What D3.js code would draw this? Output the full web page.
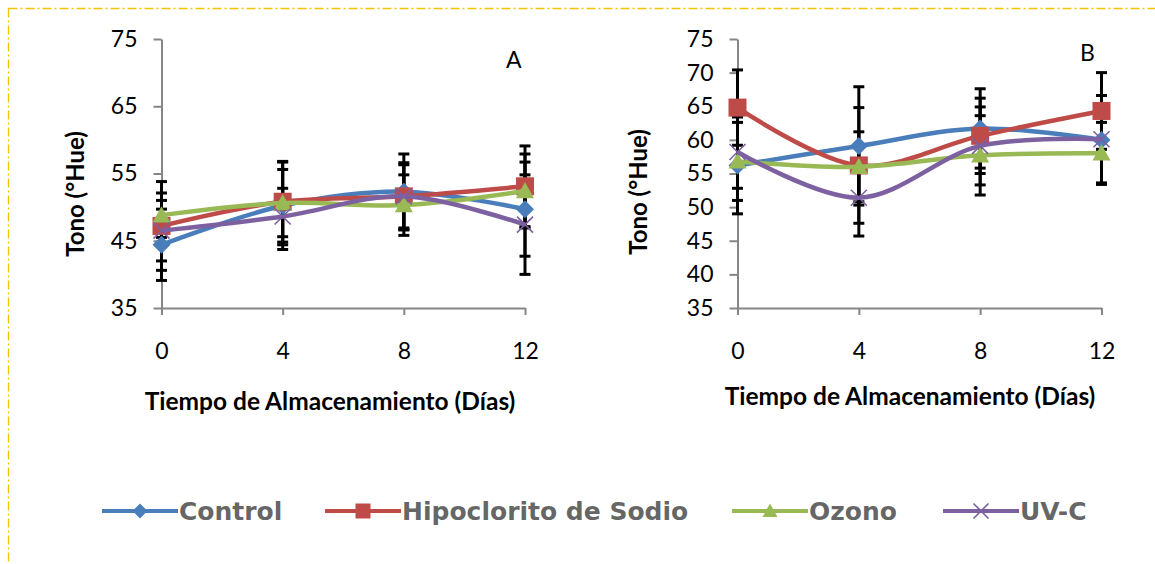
<!DOCTYPE html>
<html>
<head>
<meta charset="utf-8">
<script src="https://cdn.jsdelivr.net/npm/d3@7"></script>
<style>
  body { margin: 0; background: #fff; }
  svg { display: block; }
  text { font-family: Lato, "Noto Sans", sans-serif; }
</style>
</head>
<body>
<svg id="chart"></svg>
<script>
// data
var days = [0, 4, 8, 12];
var seriesNames = ["Control", "Hipoclorito de Sodio", "Ozono", "UV-C"];
var seriesColors = ["#4a7ebb", "#be4b48", "#98b954", "#7d60a0"];
var seriesShapes = ["diamond", "square", "triangle", "cross"];

// panel A
var controlA = [44.4, 50.2, 52.3, 49.7];
var hipoA = [47.2, 50.8, 51.6, 53.1];
var ozonoA = [48.8, 50.6, 50.3, 52.4];
var uvcA = [46.5, 48.6, 51.6, 47.4];
var controlA_sd = [5.3, 6.5, 5.6, 7.0];
var hipoA_sd = [6.6, 6.0, 4.7, 6.0];
var ozonoA_sd = [3.3, 5.0, 4.5, 5.5];
var uvcA_sd = [4.5, 4.2, 5.0, 7.4];
var ticksA = [35, 45, 55, 65, 75];

// panel B
var controlB = [56.2, 59.1, 61.7, 60.0];
var hipoB = [64.8, 56.2, 60.6, 64.3];
var ozonoB = [56.8, 56.0, 57.7, 58.0];
var uvcB = [58.2, 51.4, 59.1, 60.1];
var controlB_sd = [7.2, 8.8, 5.9, 6.6];
var hipoB_sd = [5.6, 8.6, 5.6, 5.7];
var ozonoB_sd = [5.8, 5.2, 5.9, 4.6];
var uvcB_sd = [5.4, 5.7, 5.8, 6.5];
var ticksB = [35, 40, 45, 50, 55, 60, 65, 70, 75];

var svgWidth = 1155, svgHeight = 564;
var svg = d3.select("#chart").attr("width", svgWidth).attr("height", svgHeight);

// dash-dot frame
svg.append("rect")
    .attr("x", 8.5).attr("y", 8.5)
    .attr("width", 1160).attr("height", 570)
    .attr("fill", "none")
    .attr("stroke", "#f2c300")
    .attr("stroke-width", 1.3)
    .attr("stroke-dasharray", "9,3,2,3");

function symbolPath(shape, size) {
    var s = size / 2;
    if (shape == "diamond") return "M0," + (-s) + "L" + s + ",0L0," + s + "L" + (-s) + ",0Z";
    if (shape == "square") return "M" + (-s) + "," + (-s) + "h" + size + "v" + size + "h" + (-size) + "Z";
    if (shape == "triangle") return "M0," + (-s) + "L" + s + "," + (s * 0.8) + "L" + (-s) + "," + (s * 0.8) + "Z";
    return "M" + (-s) + "," + (-s) + "L" + s + "," + s + "M" + s + "," + (-s) + "L" + (-s) + "," + s;
}

function drawMarker(g, shape, color, size) {
    if (shape == "cross") {
        g.append("path").attr("d", symbolPath(shape, size))
            .attr("stroke", color).attr("stroke-width", 1.6).attr("fill", "none");
    } else {
        g.append("path").attr("d", symbolPath(shape, size)).attr("fill", color);
    }
}

function Panel(cfg) {
    var x = d3.scaleLinear().domain([0, 12]).range([cfg.left, cfg.right]);
    var y = d3.scaleLinear().domain([35, 75]).range([cfg.bottom, cfg.top]);
    var g = svg.append("g");

    // y axis
    var ya = g.append("g").attr("transform", "translate(" + cfg.left + ",0)")
        .call(d3.axisLeft(y).tickValues(cfg.ticks).tickSize(8).tickPadding(16).tickSizeOuter(0));
    // x axis
    var xa = g.append("g").attr("transform", "translate(0," + cfg.bottom + ")")
        .call(d3.axisBottom(x).tickValues(days).tickSize(7).tickPadding(28).tickSizeOuter(0));
    [ya, xa].forEach(function (a) {
        a.select(".domain").attr("stroke", "#868686").attr("stroke-width", 2);
        a.selectAll(".tick line").attr("stroke", "#868686").attr("stroke-width", 2);
        a.selectAll(".tick text").attr("fill", "#000").style("font-size", "23px")
            .style("font-family", "Lato, sans-serif");
    });

    // error bars
    cfg.series.forEach(function (vals, i) {
        var sd = cfg.sds[i];
        vals.forEach(function (v, j) {
            var cx = x(days[j]);
            g.append("line").attr("x1", cx).attr("x2", cx)
                .attr("y1", y(v - sd[j])).attr("y2", y(v + sd[j]))
                .attr("stroke", "#000").attr("stroke-width", 3);
            [v - sd[j], v + sd[j]].forEach(function (e) {
                g.append("line").attr("x1", cx - 5.5).attr("x2", cx + 5.5)
                    .attr("y1", y(e)).attr("y2", y(e))
                    .attr("stroke", "#000").attr("stroke-width", 3);
            });
        });
    });

    // smoothed lines with markers
    var line = d3.line()
        .x(function (d, j) { return x(days[j]); })
        .y(function (d) { return y(d); })
        .curve(d3.curveCatmullRom.alpha(0.5));
    cfg.series.forEach(function (vals, i) {
        g.append("path").datum(vals).attr("d", line)
            .attr("fill", "none").attr("stroke", seriesColors[i])
            .attr("stroke-width", 4.5).attr("stroke-linejoin", "round");
        vals.forEach(function (v, j) {
            var m = g.append("g").attr("transform", "translate(" + x(days[j]) + "," + y(v) + ")");
            drawMarker(m, seriesShapes[i], seriesColors[i], i == 3 ? 16 : 18);
        });
    });

    // panel letter
    g.append("text").attr("x", cfg.letterX).attr("y", cfg.letterY)
        .style("font-size", "23px").text(cfg.letter);

    // axis titles
    g.append("text").attr("x", cfg.xTitleX).attr("y", cfg.xTitleY)
        .attr("text-anchor", "middle").style("font-size", "24.5px").style("font-weight", "bold")
        .text("Tiempo de Almacenamiento (Días)");
    g.append("text").attr("transform", "translate(" + cfg.yTitleX + "," + cfg.yTitleY + ") rotate(-90)")
        .attr("text-anchor", "middle").style("font-size", "24px").style("font-weight", "bold")
        .text("Tono (°Hue)");
}

Panel({
    left: 161.5, right: 525, top: 39, bottom: 308, ticks: ticksA,
    series: [controlA, hipoA, ozonoA, uvcA],
    sds: [controlA_sd, hipoA_sd, ozonoA_sd, uvcA_sd],
    letter: "A", letterX: 506, letterY: 68,
    xTitleX: 330, xTitleY: 410, yTitleX: 84, yTitleY: 194
});
Panel({
    left: 737.5, right: 1101.5, top: 39, bottom: 308, ticks: ticksB,
    series: [controlB, hipoB, ozonoB, uvcB],
    sds: [controlB_sd, hipoB_sd, ozonoB_sd, uvcB_sd],
    letter: "B", letterX: 1080, letterY: 61,
    xTitleX: 910, xTitleY: 405, yTitleX: 647, yTitleY: 192
});

// legend
var legendX = [102, 325, 732, 943];
var legend = svg.append("g");
seriesNames.forEach(function (name, i) {
    var lg = legend.append("g").attr("transform", "translate(" + legendX[i] + ",511)");
    lg.append("line").attr("x1", 0).attr("x2", 76).attr("y1", 0).attr("y2", 0)
        .attr("stroke", seriesColors[i]).attr("stroke-width", 4);
    var m = lg.append("g").attr("transform", "translate(38,0)");
    drawMarker(m, seriesShapes[i], seriesColors[i], 15);
    lg.append("text").attr("x", 77).attr("y", 9)
        .style("font-family", "'DejaVu Sans', sans-serif")
        .style("font-size", "25px").style("font-weight", "bold")
        .attr("fill", "#4a4a4a").attr("fill-opacity", 0.85).text(name);
});
</script>
</body>
</html>
